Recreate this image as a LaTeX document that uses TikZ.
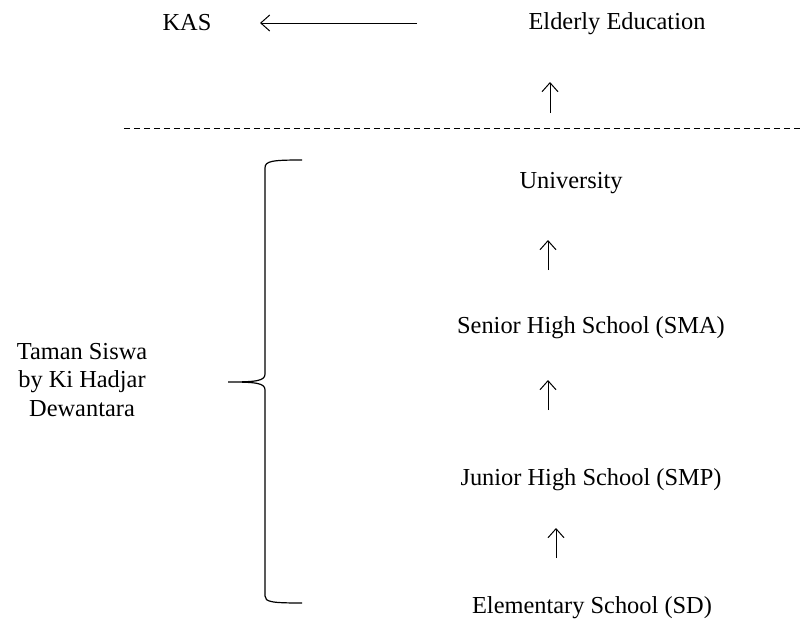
\documentclass[tikz,border=0pt]{standalone}
\usepackage{fontspec}
\setmainfont{Liberation Serif}
\usetikzlibrary{arrows.meta}
\tikzset{
  lbl/.style={inner sep=0pt, anchor=base, font=\fontsize{12.2}{14.25}\selectfont},
  arr/.style={line width=0.5pt, -{Straight Barb[length=4.5pt,width=8pt,line width=0.5pt]}},
}
\begin{document}
\begin{tikzpicture}[x=0.5pt,y=-0.5pt]
\useasboundingbox (0,0) rectangle (804,621);
% texts (positions are baselines)
\node[lbl] (kas) at (187,31) {KAS};
\node[lbl] (elder) at (617,30) {Elderly Education};
\node[lbl] (uni) at (571,188) {University};
\node[lbl] (sma) at (591,333) {Senior High School (SMA)};
\node[lbl] (smp) at (591,485) {Junior High School (SMP)};
\node[lbl] (sd) at (592,613) {Elementary School (SD)};
\node[inner sep=0pt, align=center, font=\fontsize{12.2}{14.25}\selectfont] (taman) at (82,380) {Taman Siswa\\by Ki Hadjar\\Dewantara};
% arrow end points
\coordinate (k1) at (417,23);
\coordinate (k2) at (260,23);
\coordinate (a1s) at (550,113);
\coordinate (a1e) at (550,82);
\coordinate (a2s) at (548,270);
\coordinate (a2e) at (548,240);
\coordinate (a3s) at (548,410);
\coordinate (a3e) at (548,380);
\coordinate (a4s) at (556,558);
\coordinate (a4e) at (556,528);
\coordinate (d1) at (124,128);
\coordinate (d2) at (804,128);
% arrows
\draw[arr] (k1) -- (k2);
\draw[arr] (a1s) -- (a1e);
\draw[arr] (a2s) -- (a2e);
\draw[arr] (a3s) -- (a3e);
\draw[arr] (a4s) -- (a4e);
% dashed line
\draw[line width=0.5pt, dash pattern=on 3pt off 2pt] (d1) -- (d2);
% brace
\draw[line width=0.6pt] (302,160) .. controls (272,160) and (265,161) .. (265,168)
  -- (265,374) .. controls (265,381) and (256,382) .. (228,382)
  .. controls (256,382) and (265,383) .. (265,390)
  -- (265,596) .. controls (265,602) and (272,603) .. (302,603);
\end{tikzpicture}
\end{document}
